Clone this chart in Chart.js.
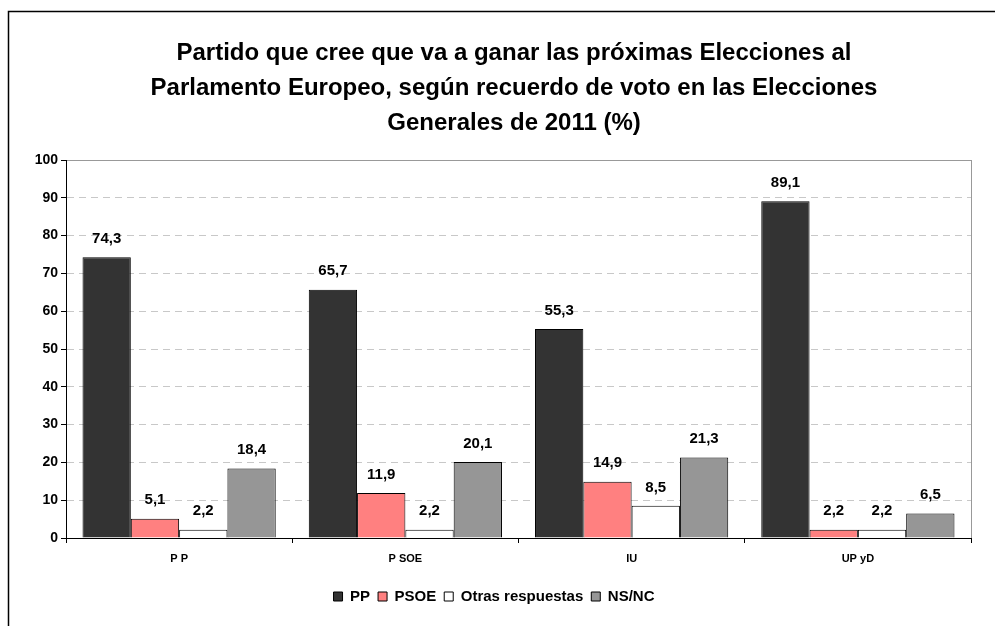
<!DOCTYPE html>
<html>
<head>
<meta charset="utf-8">
<script src="https://cdn.jsdelivr.net/npm/chart.js@4.4.1/dist/chart.umd.min.js"></script>
<style>
  html, body { margin: 0; padding: 0; background: #fff; }
  #wrap { position: relative; width: 996px; height: 626px; }
</style>
</head>
<body>
<div id="wrap"><canvas id="votoChart" width="996" height="626"></canvas></div>
<script>
// Data
const titleLines = [
    'Partido que cree que va a ganar las próximas Elecciones al',
    'Parlamento Europeo, según recuerdo de voto en las Elecciones',
    'Generales de 2011 (%)'
];
const categories = ['P P', 'P SOE', 'IU', 'UP yD'];
const seriesNames = ['PP', 'PSOE', 'Otras respuestas', 'NS/NC'];
const ppValues = [74.3, 65.7, 55.3, 89.1];
const psoeValues = [5.1, 11.9, 14.9, 2.2];
const otrasValues = [2.2, 2.2, 8.5, 2.2];
const nsncValues = [18.4, 20.1, 21.3, 6.5];
const yTicks = [0, 10, 20, 30, 40, 50, 60, 70, 80, 90, 100];

const seriesColors = ['#333333', '#ff8080', '#ffffff', '#969696'];
const fontFamily = '"Liberation Sans", Arial, sans-serif';

// Outer frame, title and plot-area border
const framePlugin = {
    id: 'frame',
    beforeDraw(chart) {
        const ctx = chart.ctx;
        ctx.save();
        ctx.fillStyle = '#fff';
        ctx.fillRect(0, 0, chart.width, chart.height);
        ctx.strokeStyle = '#000';
        ctx.lineWidth = 1.5;
        ctx.beginPath();
        ctx.moveTo(8.5, chart.height);
        ctx.lineTo(8.5, 11.5);
        ctx.lineTo(995, 11.5);
        ctx.stroke();
        ctx.restore();
    },
    afterDraw(chart) {
        const ctx = chart.ctx;
        const area = chart.chartArea;
        ctx.save();
        ctx.strokeStyle = '#999';
        ctx.lineWidth = 1;
        ctx.beginPath();
        ctx.moveTo(Math.round(area.right) + 0.5, area.top);
        ctx.lineTo(Math.round(area.right) + 0.5, area.bottom);
        ctx.stroke();
        // title
        ctx.fillStyle = '#000';
        ctx.font = 'bold 24px ' + fontFamily;
        ctx.textAlign = 'center';
        ctx.textBaseline = 'middle';
        titleLines.forEach((line, i) => {
            ctx.fillText(line, 514, 53 + i * 35);
        });
        ctx.restore();
    }
};

// Value labels above each bar, decimal comma
const valueLabels = {
    id: 'valueLabels',
    afterDatasetsDraw(chart) {
        const ctx = chart.ctx;
        ctx.save();
        ctx.fillStyle = '#000';
        ctx.font = 'bold 15px ' + fontFamily;
        ctx.textAlign = 'center';
        ctx.textBaseline = 'bottom';
        chart.data.datasets.forEach((ds, di) => {
            chart.getDatasetMeta(di).data.forEach((bar, i) => {
                const txt = ds.data[i].toFixed(1).replace('.', ',');
                ctx.fillText(txt, bar.x, bar.y - 11);
            });
        });
        ctx.restore();
    }
};

const ctx = document.getElementById('votoChart');
const allSeries = [ppValues, psoeValues, otrasValues, nsncValues];

new Chart(ctx, {
    type: 'bar',
    data: {
        labels: categories,
        datasets: allSeries.map((vals, i) => ({
            label: seriesNames[i],
            data: vals,
            backgroundColor: seriesColors[i],
            borderColor: '#000',
            borderWidth: 1,
            categoryPercentage: 0.854,
            barPercentage: 1
        }))
    },
    options: {
        responsive: false,
        animation: false,
        devicePixelRatio: 1,
        layout: {
            padding: { left: 17, right: 25, top: 160, bottom: 12 }
        },
        scales: {
            x: {
                grid: {
                    offset: true,
                    drawOnChartArea: false,
                    tickLength: 5,
                    tickColor: '#000'
                },
                border: { color: '#000', width: 1 },
                ticks: {
                    color: '#000',
                    padding: 9,
                    font: { family: fontFamily, weight: 'bold', size: 11 }
                },
                afterFit(scale) { scale.height = 43; }
            },
            y: {
                min: 0,
                max: 100,
                afterBuildTicks(scale) {
                    scale.ticks = yTicks.map(v => ({ value: v }));
                },
                grid: {
                    color: c => c.tick && c.tick.value === 100 ? '#999' : (c.tick && c.tick.value === 0 ? 'rgba(0,0,0,0)' : '#c8c8c8'),
                    tickColor: '#000',
                    tickLength: 5,
                    lineWidth: 1
                },
                border: {
                    color: '#000',
                    width: 1,
                    dash: c => (c.tick && c.tick.value > 0 && c.tick.value < 100) ? [7, 5] : []
                },
                ticks: {
                    color: '#000',
                    padding: 3,
                    font: { family: fontFamily, weight: 'bold', size: 14 }
                },
                afterFit(scale) { scale.width = 49; }
            }
        },
        plugins: {
            title: { display: false },
            tooltip: { enabled: false },
            legend: {
                display: true,
                position: 'bottom',
                labels: {
                    color: '#000',
                    boxWidth: 9,
                    boxHeight: 9,
                    padding: 8,
                    font: { family: fontFamily, weight: 'bold', size: 15 }
                }
            }
        }
    },
    plugins: [framePlugin, valueLabels]
});
</script>
</body>
</html>
